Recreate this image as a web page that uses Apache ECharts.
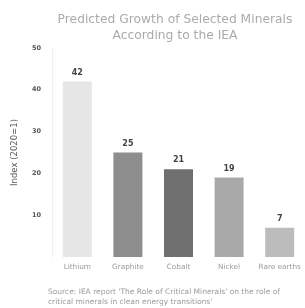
<!DOCTYPE html>
<html>
<head>
<meta charset="utf-8">
<script src="https://cdn.jsdelivr.net/npm/echarts@6/dist/echarts.min.js"></script>
<style>
  html, body { margin: 0; padding: 0; background: #fff; }
  #chart { width: 305px; height: 308px; }
</style>
</head>
<body>
<div id="chart"></div>
<script>
  // data
  var minerals = ['Lithium', 'Graphite', 'Cobalt', 'Nickel', 'Rare earths'];
  var growth = [42, 25, 21, 19, 7];
  var barColors = ['#e6e6e6', '#8e8e8e', '#6f6f6f', '#a9a9a9', '#bcbcbc'];
  var yTicks = [0, 10, 20, 30, 40, 50];

  var chart = echarts.init(document.getElementById('chart'));

  var option = {
    animation: false,
    title: {
      text: 'Predicted Growth of Selected Minerals\nAccording to the IEA',
      left: 170,
      textAlign: 'center',
      top: 7,
      textStyle: {
        fontFamily: 'DejaVu Sans',
        fontSize: 12.3,
        fontWeight: 'normal',
        color: '#ababab',
        lineHeight: 16
      }
    },
    graphic: [{
      type: 'text',
      left: 48,
      top: 287,
      style: {
        text: "Source: IEA report 'The Role of Critical Minerals' on the role of\ncritical minerals in clean energy transitions'",
        font: '7.5px "DejaVu Sans"',
        fill: '#9a9a9a',
        lineHeight: 10
      }
    }],
    grid: {
      left: 52,
      right: 0,
      top: 48,
      bottom: 51
    },
    xAxis: {
      type: 'category',
      data: minerals,
      axisLine: { show: false },
      axisTick: { show: false },
      axisLabel: {
        interval: 0,
        hideOverlap: false,
        color: '#9a9a9a',
        fontFamily: 'DejaVu Sans',
        fontSize: 7.3,
        margin: 7
      }
    },
    yAxis: {
      type: 'value',
      min: yTicks[0],
      max: yTicks[yTicks.length - 1],
      interval: 10,
      name: 'Index (2020=1)',
      nameLocation: 'middle',
      nameGap: 33,
      nameRotate: 90,
      nameTextStyle: {
        color: '#555',
        fontFamily: 'DejaVu Sans',
        fontSize: 8.5
      },
      axisLine: { show: true, lineStyle: { color: '#efefef' } },
      axisTick: { show: false },
      splitLine: { show: false },
      axisLabel: {
        showMinLabel: false,
        color: '#555',
        fontFamily: 'DejaVu Sans',
        fontSize: 6.5,
        fontWeight: 'bold',
        margin: 11
      }
    },
    series: [{
      type: 'bar',
      barWidth: 29,
      data: growth.map(function (v, i) {
        return { value: v, itemStyle: { color: barColors[i] } };
      }),
      label: {
        show: true,
        position: 'top',
        distance: 5,
        color: '#444',
        fontFamily: 'DejaVu Sans',
        fontSize: 8,
        fontWeight: 'bold'
      }
    }]
  };

  chart.setOption(option);
</script>
</body>
</html>
